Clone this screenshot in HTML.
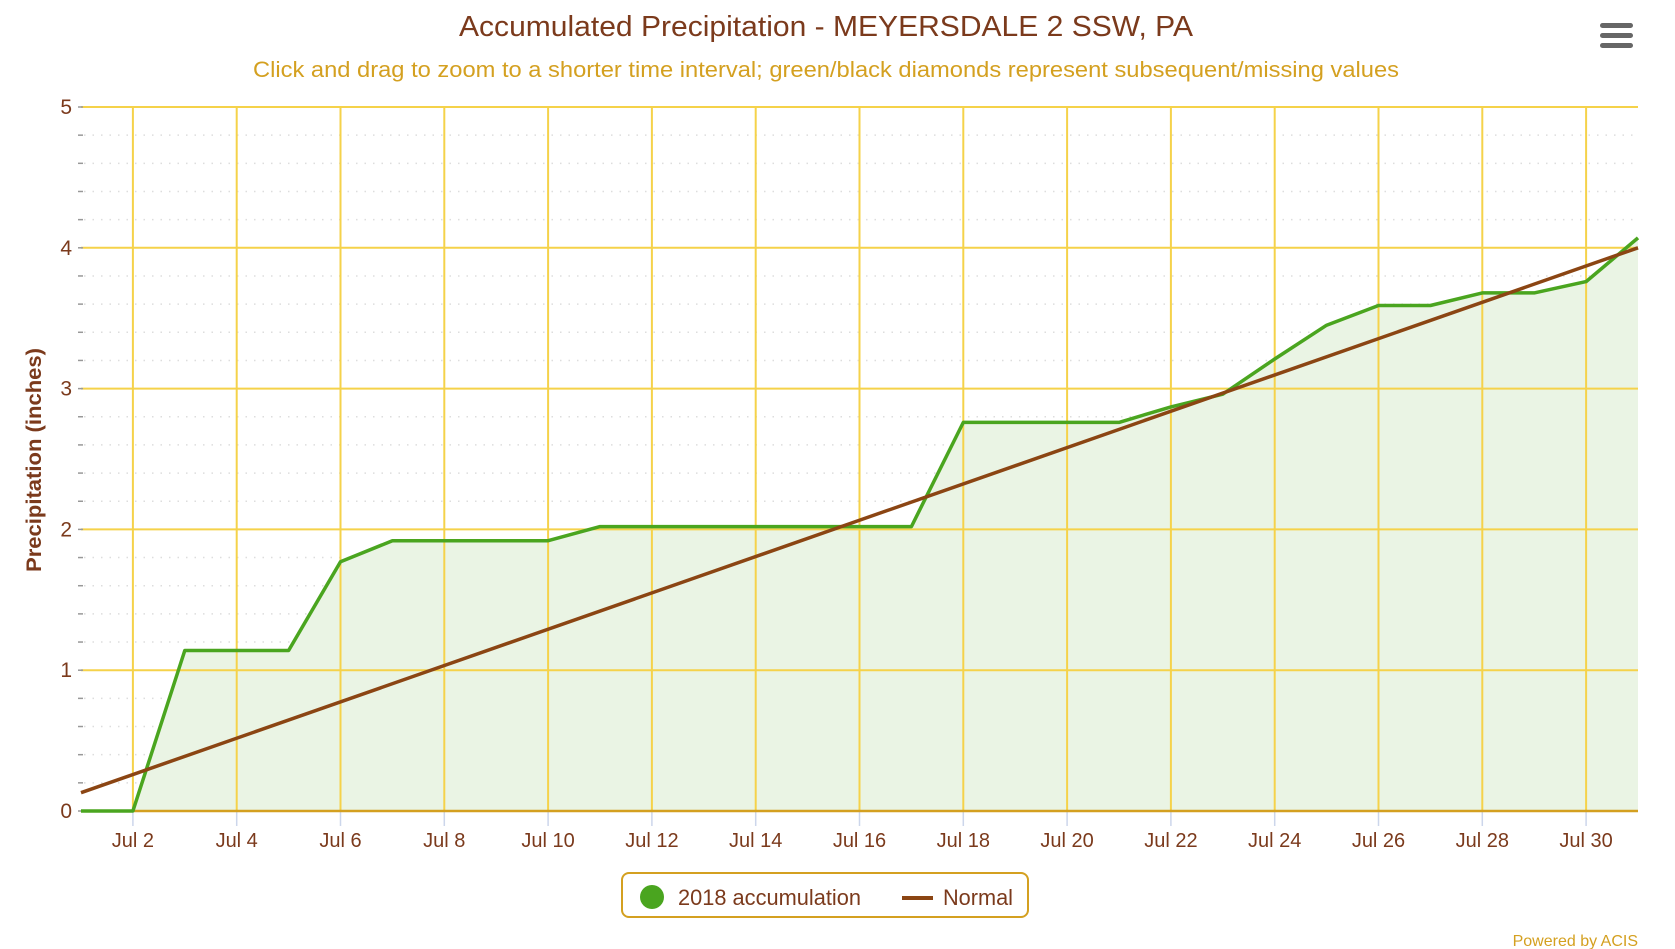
<!DOCTYPE html>
<html><head><meta charset="utf-8"><style>
html,body{margin:0;padding:0;background:#fff;}
svg{display:block;font-family:"Liberation Sans",sans-serif;}
</style></head><body>
<svg width="1675" height="949" viewBox="0 0 1675 949" xmlns="http://www.w3.org/2000/svg">
<rect width="1675" height="949" fill="#fff"/>
<text x="826" y="36" text-anchor="middle" font-size="29" fill="#7b3a1c" textLength="734" lengthAdjust="spacingAndGlyphs">Accumulated Precipitation - MEYERSDALE 2 SSW, PA</text>
<text x="826" y="77" text-anchor="middle" font-size="22" fill="#d4a020" textLength="1146" lengthAdjust="spacingAndGlyphs">Click and drag to zoom to a shorter time interval; green/black diamonds represent subsequent/missing values</text>
<g fill="#666"><rect x="1600" y="23" width="33" height="5" rx="2.5"/><rect x="1600" y="33" width="33" height="5" rx="2.5"/><rect x="1600" y="43" width="33" height="5" rx="2.5"/></g>
<g id="minor" stroke="#ddd" stroke-width="1.5" stroke-dasharray="1.5,7">
</g>
<script>
(function(){
var svgNS="http://www.w3.org/2000/svg";
var s=document.querySelector('svg');
function X(d){return 81+(d-1)*51.9;}
function Y(v){return 811-v*140.8;}
function el(t,a,p){var e=document.createElementNS(svgNS,t);for(var k in a)e.setAttribute(k,a[k]);(p||s).appendChild(e);return e;}
var g=document.getElementById('minor');
for(var i=1;i<25;i++){if(i%5==0)continue;var y=Y(i*0.2);el('line',{x1:84,y1:y,x2:1638,y2:y},g);el('line',{x1:78,y1:y,x2:83,y2:y,stroke:'#999','stroke-width':1.5,'stroke-dasharray':'none'},g);}
var green=[0,0,1.14,1.14,1.14,1.77,1.92,1.92,1.92,1.92,2.02,2.02,2.02,2.02,2.02,2.02,2.02,2.76,2.76,2.76,2.76,2.87,2.96,3.21,3.45,3.59,3.59,3.68,3.68,3.76,4.07];
var pts=green.map(function(v,i){return X(i+1).toFixed(1)+','+Y(v).toFixed(1);});
el('polygon',{points:X(1)+','+Y(0)+' '+pts.join(' ')+' '+X(31)+','+Y(0),fill:'#eaf4e4'});
for(var d=2;d<=30;d+=2){var x=X(d);el('line',{x1:x,y1:107,x2:x,y2:811,stroke:'#f5d24a','stroke-width':2});el('line',{x1:x,y1:811,x2:x,y2:826,stroke:'#ccd6eb','stroke-width':1.5});
var t=el('text',{x:x,y:847,'text-anchor':'middle','font-size':20,fill:'#7b3a1c'});t.textContent='Jul '+d;}
for(var v=0;v<=5;v++){var y=Y(v);el('line',{x1:81,y1:y,x2:1638,y2:y,stroke:v==0?'#d4a020':'#f5d24a','stroke-width':v==0?2.5:2});el('line',{x1:78,y1:y,x2:83,y2:y,stroke:'#999','stroke-width':1.5});
var t=el('text',{x:72,y:y+7,'text-anchor':'end','font-size':21,fill:'#7b3a1c'});t.textContent=v;}
el('polyline',{points:pts.join(' '),fill:'none',stroke:'#4aa51f','stroke-width':3.5,'stroke-linejoin':'round'});
el('line',{x1:X(1),y1:Y(0.13),x2:X(31),y2:Y(4.0),stroke:'#8b4513','stroke-width':3.5});
})();
</script>
<text transform="translate(41,460) rotate(-90)" text-anchor="middle" font-size="21" font-weight="bold" fill="#7b3a1c" textLength="224" lengthAdjust="spacingAndGlyphs">Precipitation (inches)</text>
<rect x="622" y="873" width="406" height="44" rx="7" fill="#fff" stroke="#d4a020" stroke-width="2"/>
<circle cx="652" cy="897" r="12" fill="#4aa51f"/>
<text x="678" y="905" font-size="22" fill="#7b3a1c" textLength="183" lengthAdjust="spacingAndGlyphs">2018 accumulation</text>
<line x1="902" y1="898" x2="933" y2="898" stroke="#8b4513" stroke-width="4"/>
<text x="943" y="905" font-size="22" fill="#7b3a1c" textLength="70" lengthAdjust="spacingAndGlyphs">Normal</text>
<text x="1638" y="946" text-anchor="end" font-size="16" fill="#d4a020">Powered by ACIS</text>
</svg>
</body></html>
